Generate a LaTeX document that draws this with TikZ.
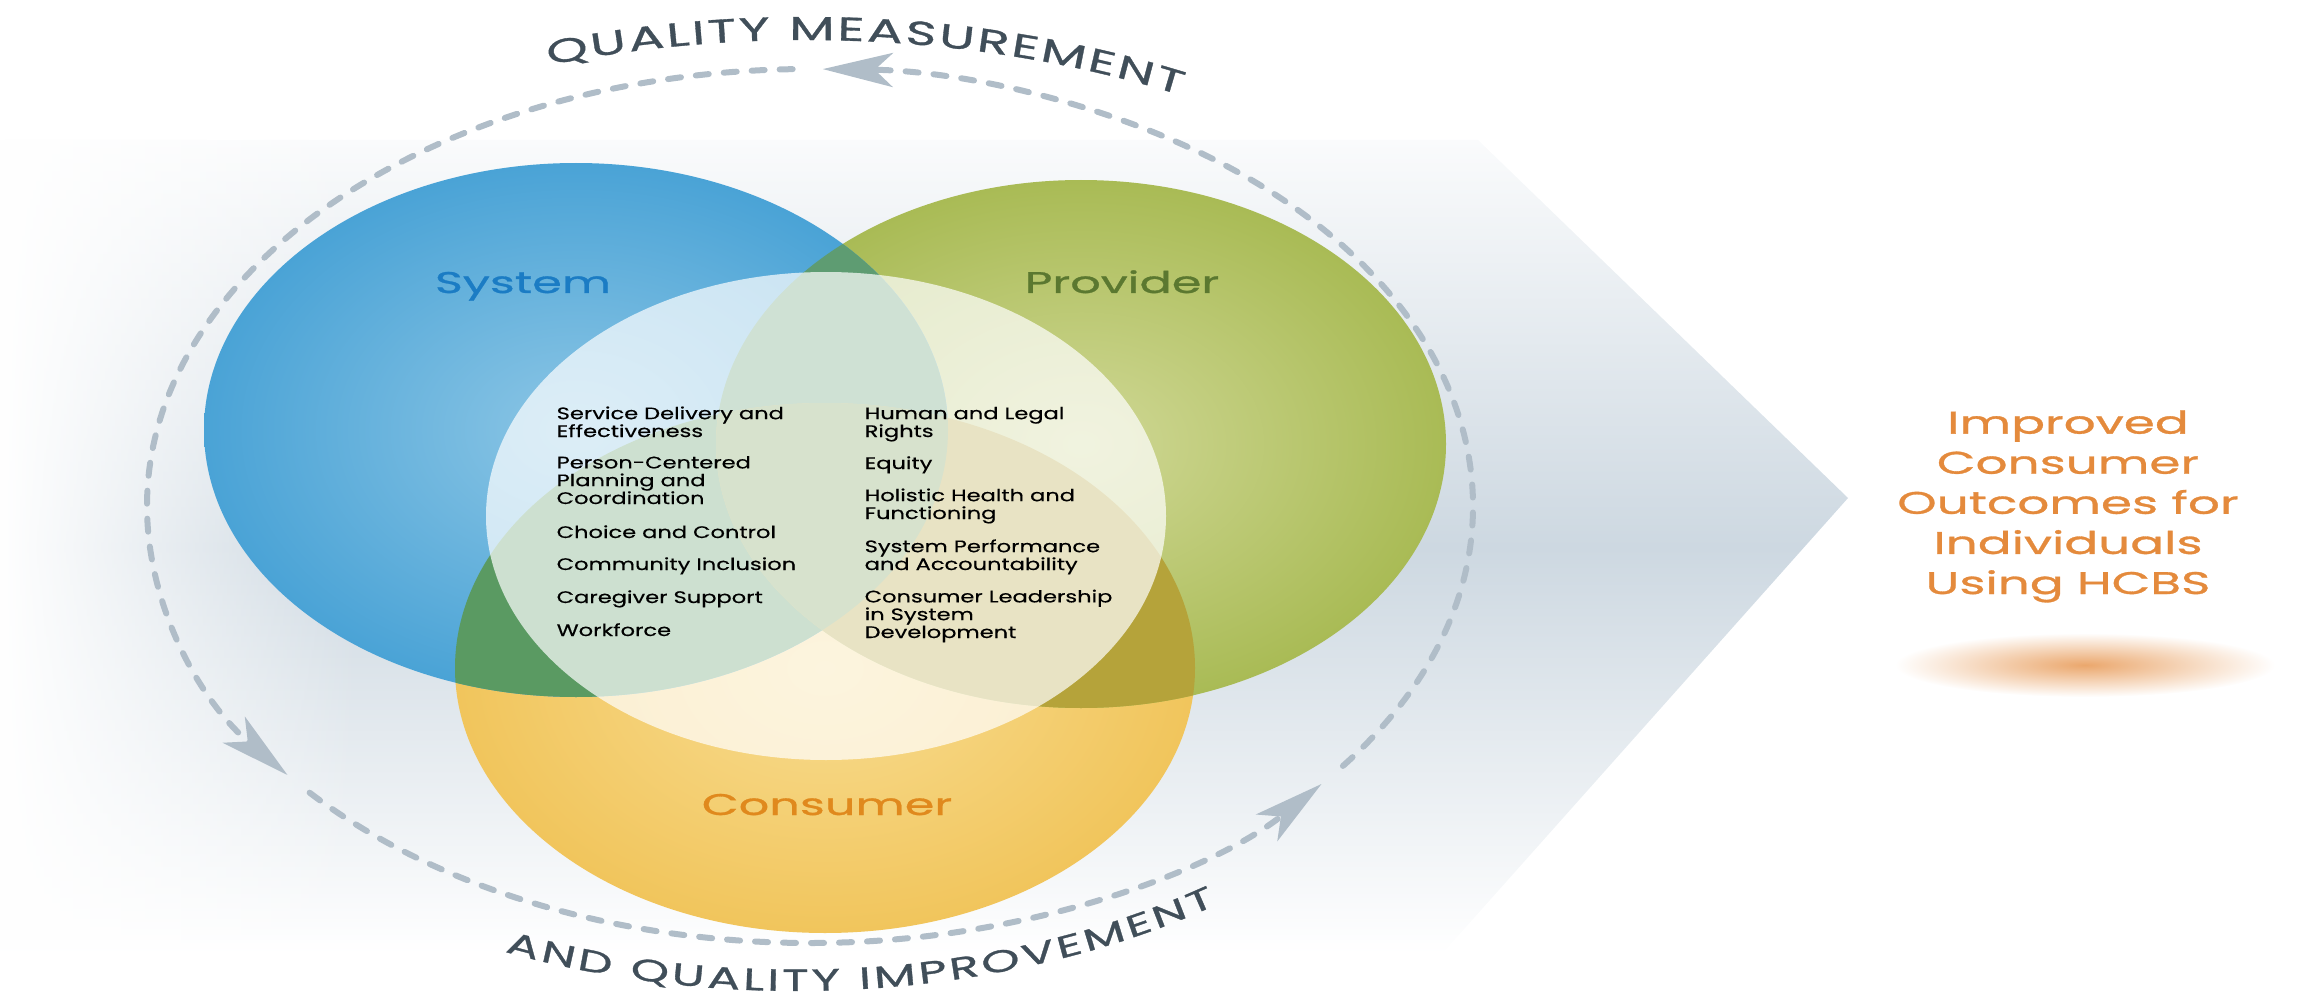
\documentclass[tikz,border=0pt]{standalone}
\usepackage{fontspec}
\newfontfamily\hcbsfont[FakeStretch=1.35, FakeBold=0.4]{Poppins}
\newfontfamily\widefont[FakeStretch=1.6, FakeBold=1]{Poppins}
\usetikzlibrary{arrows.meta,decorations.text,fadings}

\definecolor{sysblue}{HTML}{4AA3D6}
\definecolor{syslight}{HTML}{8CC6E5}
\definecolor{provgreen}{HTML}{A9BB55}
\definecolor{provlight}{HTML}{D0D896}
\definecolor{consyellow}{HTML}{F1C55C}
\definecolor{conslight}{HTML}{F8DD92}
\definecolor{sysprov}{HTML}{5E9C72}
\definecolor{syscons}{HTML}{5A9A62}
\definecolor{provcons}{HTML}{B5A33A}
\definecolor{allthree}{HTML}{7A9E5A}
\definecolor{dashgrey}{HTML}{B0BDC8}
\definecolor{slate}{HTML}{404E59}
\definecolor{labelblue}{HTML}{1B7CC4}
\definecolor{labelgreen}{HTML}{5B7830}
\definecolor{labelorange}{HTML}{E0891D}
\definecolor{outorange}{HTML}{E48A3C}
\definecolor{bandgrey}{HTML}{CDD8E1}

\begin{document}
\begin{tikzpicture}[x=0.01cm, y=0.01cm,
    sysR/.style={x radius=372, y radius=267},
    provR/.style={x radius=365, y radius=264},
    consR/.style={x radius=370, y radius=265},
    coreR/.style={x radius=340, y radius=244},
    loopR/.style={x radius=663, y radius=437},
    loop/.style={dashgrey, line width=0.06cm, line cap=round, dash pattern=on 0.13cm off 0.15cm,
        -{Stealth[length=0.7cm, width=0.34cm, inset=0.18cm]}},
    item/.style={anchor=base west, align=left, inner sep=0pt, font=\hcbsfont\fontsize{4.75}{5.06}\selectfont},
    ring/.style={anchor=base, inner sep=0pt, font=\widefont\fontsize{8.5}{10}\selectfont},
    arctext/.style 2 args={decorate, decoration={text along path, text align={fit to path},
        text={|\widefont\fontsize{#1}{10}\selectfont\color{slate}|#2}}}]
    %\draw[very thin,color=gray] (0,0) grid[step=100] (2305,1002);
    \useasboundingbox (0,0) rectangle (2305,1002);
    \shade[top color=white!90!bandgrey, bottom color=white, middle color=bandgrey]
        (0,862) -- (1478,862) -- (1848,504) -- (1441,47) -- (0,47) -- cycle;
    \fill[white, path fading=east] (0,40) rectangle (360,870);

    \coordinate (loopc) at (810,496);
    \draw[loop] (loopc) ++(221:663 and 437) arc[start angle=221, end angle=320.5, loopR];
    \draw[loop] (loopc) ++(323.5:663 and 437) arc[start angle=323.5, end angle=448.9, loopR];
    \draw[loop] (loopc) ++(91.5:663 and 437) arc[start angle=91.5, end angle=218, loopR];
    \path[arctext={9.4}{QUALITY MEASUREMENT}] (806,383) ++(107:880 and 579)
        arc[start angle=107, end angle=64.8, x radius=880, y radius=579];
    \path[arctext={8.7}{AND QUALITY IMPROVEMENT}] (796,497) ++(246.8:739 and 486)
        arc[start angle=246.8, end angle=304.6, x radius=739, y radius=486];

    \coordinate (sys) at (576,572);
    \coordinate (prov) at (1081,558);
    \coordinate (cons) at (825,334);
    \coordinate (core) at (826,486);
    \shade[inner color=conslight, outer color=consyellow] (cons) ellipse[consR];
    \shade[inner color=provlight, outer color=provgreen] (prov) ellipse[provR];
    \shade[inner color=syslight, outer color=sysblue] (sys) ellipse[sysR];
    \begin{scope}
        \clip (sys) ellipse[sysR];
        \fill[sysprov] (prov) ellipse[provR];
        \fill[syscons] (cons) ellipse[consR];
    \end{scope}
    \begin{scope}
        \clip (prov) ellipse[provR];
        \fill[provcons] (cons) ellipse[consR];
        \clip (sys) ellipse[sysR];
        \fill[allthree] (cons) ellipse[consR];
    \end{scope}
    \fill[white, opacity=0.7] (core) ellipse[coreR];

    \node[ring, labelblue] (system) at (523,709) {System};
    \node[ring, labelgreen] (provider) at (1122,709) {Provider};
    \node[ring, labelorange] (consumer) at (827,187) {Consumer};

    \node[item] (delivery) at (556,565) {Service Delivery and\\Effectiveness};
    \node[item] (planning) at (556,498) {Person-Centered\\Planning and\\Coordination};
    \node[item] (choice) at (556,464) {Choice and Control};
    \node[item] (inclusion) at (556,432) {Community Inclusion};
    \node[item] (caregiver) at (556,399) {Caregiver Support};
    \node[item] (workforce) at (556,366) {Workforce};
    \node[item] (rights) at (864,565) {Human and Legal\\Rights};
    \node[item] (equity) at (864,533) {Equity};
    \node[item] (health) at (864,483) {Holistic Health and\\Functioning};
    \node[item] (performance) at (864,432) {System Performance\\and Accountability};
    \node[item] (leadership) at (864,364) {Consumer Leadership\\in System\\Development};

    \shade[inner color=outorange!75!white, outer color=white] (2085,337) ellipse[x radius=190, y radius=32];
    \node[anchor=base, align=center, inner sep=0pt, outorange, font=\widefont\fontsize{8.9}{11.4}\selectfont]
        (outcome) at (2068,408) {Improved\\Consumer\\Outcomes for\\Individuals\\Using HCBS};
\end{tikzpicture}
\end{document}
